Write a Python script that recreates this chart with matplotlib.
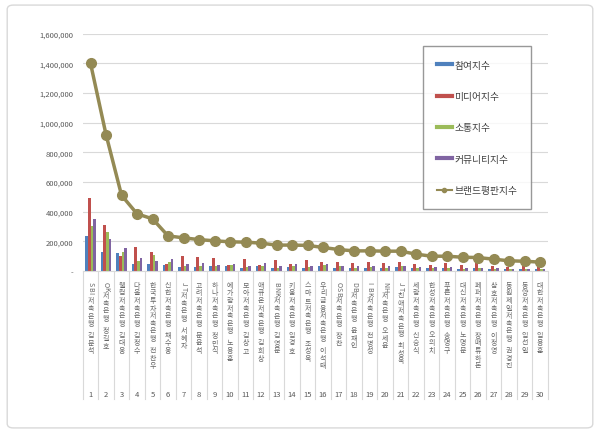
import matplotlib.pyplot as plt
import numpy as np
from matplotlib.lines import Line2D
from matplotlib.patches import FancyBboxPatch

plt.rcParams['font.family'] = ['Noto Sans CJK KR', 'DejaVu Sans']

## Data

labels = ["SBI저축은행 김문석", "OK저축은행 정길호", "웰컴저축은행 김대웅", "다올저축은행 김정수",
          "한국투자저축은행 전찬우", "신한저축은행 채수웅", "JT저축은행 서혜자", "고려저축은행 문윤석",
          "하나저축은행 정민식", "예가람저축은행 노용훈", "모아저축은행 김상고", "애큐온저축은행 김희상",
          "BNK저축은행 김영문", "키움저축은행 임경호", "스마트저축은행 조성욱", "우리금융저축은행 이석태",
          "OSB저축은행 장찬", "DB저축은행 윤재인", "IBK저축은행 전병성", "NH저축은행 오세윤",
          "JT친애저축은행 최성욱", "세람저축은행 신승식", "한성저축은행 오의치", "푸른저축은행 송명구",
          "대신저축은행 노명문", "페퍼저축은행 장매튜하돈", "삼호저축은행 이정영", "동원제일저축은행 권경진",
          "동양저축은행 임선일", "대한저축은행 임용훈"]

participation = [234000, 126000, 122000, 49000, 47000, 38000, 29000, 25000, 36000, 30000,
                 22000, 30000, 20000, 25000, 18000, 30000, 22000, 18000, 20000, 18000,
                 25000, 20000, 18000, 22000, 16000, 18000, 15000, 15000, 12000, 12000]
media = [491000, 311000, 101000, 164000, 126000, 47000, 99000, 95000, 86000, 40000,
         81000, 38000, 74000, 45000, 72000, 58000, 63000, 52000, 58000, 56000,
         58000, 47000, 40000, 52000, 40000, 63000, 35000, 25000, 32000, 25000]
communication = [304000, 261000, 130000, 70000, 108000, 61000, 35000, 35000, 30000, 38000,
                 25000, 35000, 22000, 35000, 25000, 40000, 30000, 22000, 25000, 22000,
                 30000, 22000, 20000, 18000, 15000, 18000, 12000, 10000, 10000, 10000]
community = [353000, 216000, 155000, 86000, 68000, 79000, 49000, 50000, 40000, 45000,
             30000, 50000, 30000, 48000, 30000, 45000, 35000, 30000, 30000, 30000,
             35000, 28000, 25000, 28000, 20000, 22000, 18000, 15000, 15000, 15000]
brand = [1400000, 919000, 510000, 385000, 351000, 236000, 223000, 211000, 203000, 196000,
         194000, 187000, 174000, 174000, 172000, 158000, 144000, 135000, 135000, 133000,
         133000, 113000, 99000, 99000, 92000, 90000, 79000, 68000, 65000, 59000]

series_names = ["참여지수", "미디어지수", "소통지수", "커뮤니티지수", "브랜드평판지수"]
colors = ["#4F81BD", "#C0504D", "#9BBB59", "#8064A2"]
line_color = "#948A54"

## Plot

fig = plt.figure(figsize=(6, 4.35), dpi=100)
frame = FancyBboxPatch((0.012, 0.014), 0.976, 0.972, boxstyle="round,pad=0,rounding_size=0.01",
                       transform=fig.transFigure, facecolor="white", edgecolor="#d9d9d9", lw=1, zorder=-5)
fig.patches.append(frame)
ax = fig.add_axes([0.138, 0.375, 0.775, 0.545])
ax.patch.set_alpha(0)

x = np.arange(1, len(labels) + 1)
w = 0.17
for i, vals in enumerate([participation, media, communication, community]):
    ax.bar(x + (i - 1.5) * w, vals, width=w, color=colors[i], zorder=2)
ax.plot(x, brand, color=line_color, lw=2.5, marker="o", ms=7, zorder=3)

ax.set_xlim(0.5, 30.5)
ax.set_ylim(0, 1600000)
ax.set_yticks(np.arange(0, 1600001, 200000))
ax.set_yticklabels(["-"] + ["{:,}".format(v) for v in range(200000, 1600001, 200000)])
ax.tick_params(axis="y", length=0, pad=7, labelsize=5.5, labelcolor="#595959")
ax.set_xticks([])
ax.grid(axis="y", color="#d9d9d9", lw=0.8, zorder=0)
for s in ["top", "right", "left"]:
    ax.spines[s].set_visible(False)
ax.spines["bottom"].set_color("#d9d9d9")

# stacked category labels, one character at a time (Excel style vertical text)
tr = ax.get_xaxis_transform()
for xi, lab in zip(x, labels):
    off = -7.0
    for ch in lab:
        if ch == " ":
            off -= 3.0
            continue
        if ch.isascii():
            ax.annotate(ch, (xi, 0), xycoords=tr, xytext=(0, off), textcoords="offset points",
                        ha="center", va="top", rotation=-90, fontsize=5.0, color="#666666")
            off -= 3.8
        else:
            ax.annotate(ch, (xi, 0), xycoords=tr, xytext=(0, off), textcoords="offset points",
                        ha="center", va="top", fontsize=5.0, color="#666666")
            off -= 5.5
    ax.text(xi, -0.52, str(xi), transform=tr, ha="center", va="center", fontsize=5.5, color="#595959")
for b in np.arange(0.5, 31, 1):
    ax.plot([b, b], [0, -0.54], transform=tr, color="#d9d9d9", lw=0.8, clip_on=False)

# legend
handles = [Line2D([0], [0], color=c, lw=3) for c in colors]
handles.append(Line2D([0], [0], color=line_color, lw=1.5, marker="o", ms=3))
leg = fig.legend(handles, series_names, loc="upper left", bbox_to_anchor=(0.705, 0.892),
                 fontsize=7, labelspacing=2.2, handlelength=1.6, handletextpad=0.2,
                 borderpad=1.4, borderaxespad=0, fancybox=False, edgecolor="#7f7f7f")
leg.get_frame().set_linewidth(1)
for t in leg.get_texts():
    t.set_color("#404040")

fig.savefig("out.png")
